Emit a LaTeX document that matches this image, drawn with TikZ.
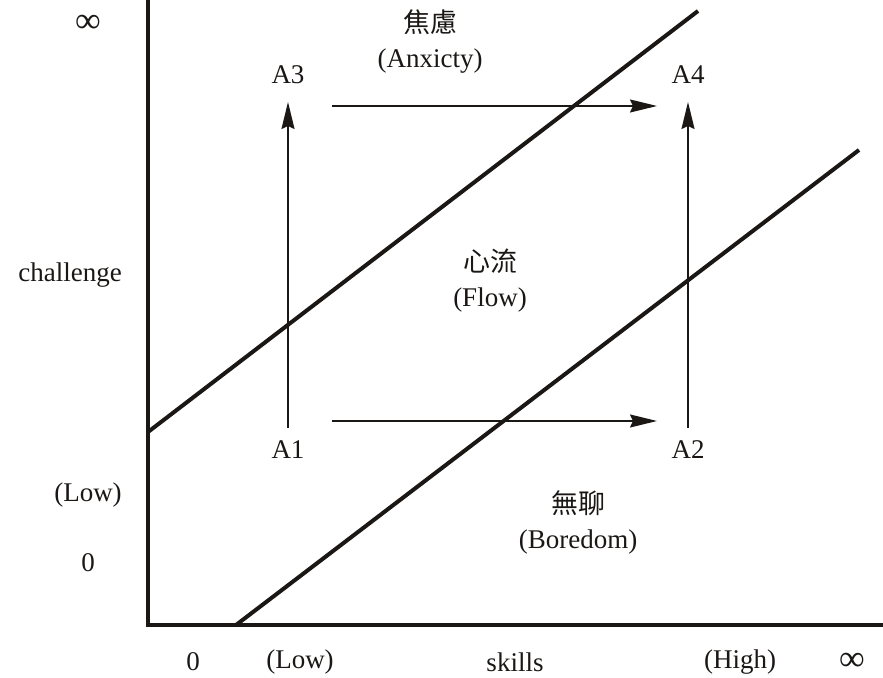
\documentclass[tikz,border=0pt]{standalone}
\usepackage{fontspec}
\setmainfont{Liberation Serif}
\newfontfamily\cjk{Noto Sans CJK TC}
\usetikzlibrary{arrows.meta}
\definecolor{ink}{HTML}{1A1715}

\begin{document}
\begin{tikzpicture}[x=1pt, y=1pt,
      lbl/.style={font=\fontsize{27}{35}\selectfont, text=ink, inner sep=0pt, align=center},
      inf/.style={font=\fontsize{36}{36}\selectfont, text=ink, inner sep=0pt},
      axis/.style={draw=ink, line width=4pt},
      band/.style={draw=ink, line width=4pt},
      arr/.style={-{Stealth[length=27pt, width=13pt, inset=3pt]}, draw=ink, line width=1.6pt}]
    \useasboundingbox (0,0) rectangle (883,677);

    % axes and zone borders
    \draw[axis] (148,677) |- (883,52);
    \draw[band] (148,245) -- (698,666);
    \draw[band] (236,52) -- (859,527);

    % states
    \node[lbl] (A1) at (288,227) {A1};
    \node[lbl] (A2) at (688,227) {A2};
    \node[lbl] (A3) at (288,602) {A3};
    \node[lbl] (A4) at (688,602) {A4};

    \draw[arr, shorten <=22pt, shorten >=27pt] (A1.center) -- (A3.center);
    \draw[arr, shorten <=22pt, shorten >=27pt] (A2.center) -- (A4.center);
    \draw[arr] ([shift={(44,-31)}]A3.center) -- ([shift={(-31,-31)}]A4.center);
    \draw[arr] ([shift={(44,29)}]A1.center) -- ([shift={(-31,29)}]A2.center);

    % zones
    \node[lbl] (anx) at (430,635) {{\cjk 焦慮}\\(Anxicty)};
    \node[lbl] (flow) at (490,396) {{\cjk 心流}\\(Flow)};
    \node[lbl] (bore) at (578,155) {{\cjk 無聊}\\(Boredom)};

    % axis labels
    \node[inf] (yinf) at (88,653) {∞};
    \node[lbl] (chal) at (70,402) {challenge};
    \node[lbl] (ylow) at (88,182) {(Low)};
    \node[lbl] (yzero) at (88,114) {0};
    \node[lbl] (xzero) at (193,15) {0};
    \node[lbl] (xlow) at (300,15) {(Low)};
    \node[lbl] (skill) at (515,15) {skills};
    \node[lbl] (xhigh) at (740,15) {(High)};
    \node[inf] (xinf) at (852,15) {∞};
  \end{tikzpicture}
\end{document}
